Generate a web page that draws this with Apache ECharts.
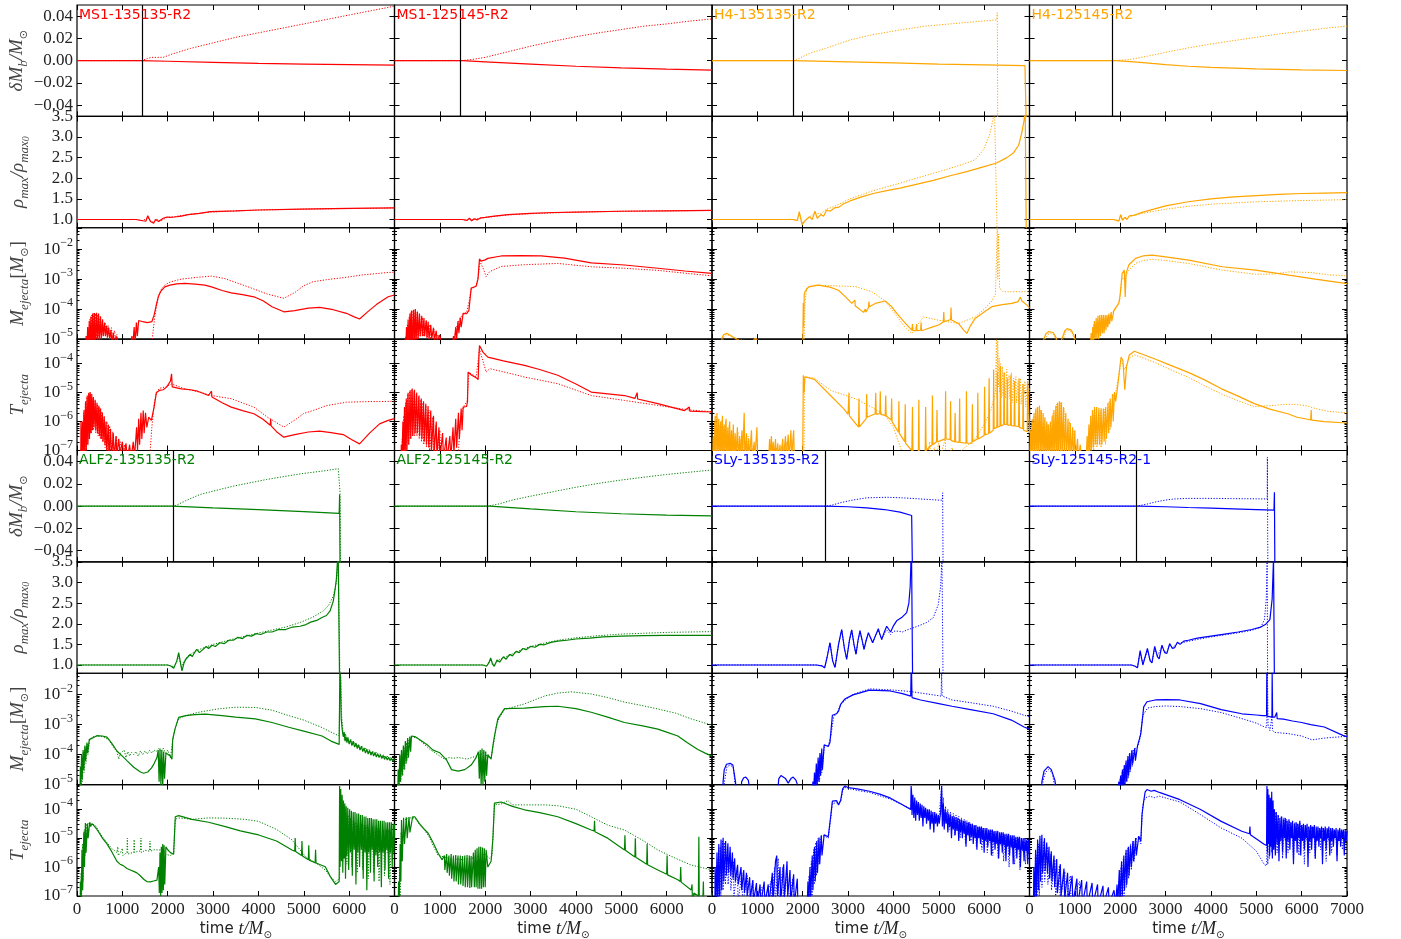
<!DOCTYPE html>
<html><head><meta charset="utf-8">
<script src="https://cdn.jsdelivr.net/npm/echarts@6/dist/echarts.min.js"></script>
<style>html,body{margin:0;padding:0;background:#fff}#c{width:1401px;height:939px}</style>
</head><body><div id="c"></div>
<script>
// ---- tick labels ----
const timeTicks = [0,1000,2000,3000,4000,5000,6000,7000];
const dMbTicks = [-0.04,-0.02,0,0.02,0.04];
const rhoTicks = [1.0,1.5,2.0,2.5,3.0,3.5];

// ---- data: [t, value]; Mej/Tej values are log10 ----
// MS1-135135-R2
const ms1a_dMb_s=[[0,0],[1400,0],[2000,-0.0005],[3000,-0.0015],[4000,-0.0025],[5000,-0.003],[6000,-0.0035],[7000,-0.004]];
const ms1a_dMb_d=[[0,0],[1430,0],[1550,0.002],[1650,0.003],[1900,0.003],[2100,0.006],[2500,0.011],[3000,0.016],[3500,0.021],[4000,0.025],[4500,0.029],[5000,0.033],[5500,0.037],[6000,0.041],[6500,0.045],[7000,0.049]];
const ms1a_rho_s=[[0,1],[1300,1.0],[1450,0.97],[1520,0.96],[1560,1.09],[1620,0.95],[1690,0.91],[1730,1.0],[1763,1.02],[1800,0.95],[1836,0.94],[1900,1.03],[1983,1.06],[2050,1.05],[2150,1.06],[2300,1.08],[2450,1.12],[2700,1.15],[2940,1.19],[3500,1.21],[4000,1.23],[4920,1.25],[6000,1.27],[7000,1.28]];
const ms1a_rho_d=[[0,1],[1300,1.0],[1450,0.97],[1560,1.05],[1620,0.96],[1690,0.93],[1763,1.01],[1836,0.96],[1983,1.05],[2150,1.07],[2450,1.12],[2940,1.18],[4000,1.23],[5000,1.25],[7000,1.28]];
const ms1a_Mej_s=[[0,-6],[190,-6],[200,-4.9],[215,-5.5],[235,-4.6],[250,-5.5],[270,-4.4],[285,-5.5],[305,-4.25],[320,-5.4],[345,-4.15],[360,-5.3],[385,-4.13],[400,-5.2],[430,-4.12],[445,-5.1],[475,-4.15],[490,-5.1],[520,-4.25],[535,-5.0],[565,-4.35],[580,-4.9],[610,-4.45],[625,-4.9],[655,-4.55],[670,-4.95],[700,-4.62],[720,-5.0],[750,-4.7],[770,-5.2],[800,-4.78],[830,-5.3],[860,-4.9],[900,-5.05],[950,-5.3],[1180,-5.3],[1210,-4.9],[1230,-5.2],[1260,-4.6],[1280,-5.1],[1310,-4.45],[1330,-4.9],[1360,-4.38],[1390,-4.36],[1450,-4.42],[1550,-4.45],[1650,-4.42],[1700,-4.2],[1750,-3.85],[1790,-3.6],[1850,-3.4],[1936,-3.26],[2050,-3.2],[2200,-3.16],[2380,-3.14],[2600,-3.17],[2820,-3.2],[2965,-3.26],[3200,-3.38],[3400,-3.46],[3650,-3.52],[3900,-3.59],[4100,-3.72],[4300,-3.92],[4560,-4.09],[4800,-4.05],[5100,-3.97],[5350,-3.94],[5650,-4.02],[5940,-4.14],[6100,-4.25],[6230,-4.33],[6400,-4.1],[6600,-3.85],[6860,-3.59],[7000,-3.53]];
const ms1a_Mej_d=[[0,-6],[220,-6],[240,-4.7],[255,-5.4],[280,-4.35],[295,-5.3],[320,-4.2],[335,-5.2],[365,-4.15],[380,-5.1],[410,-4.15],[425,-5.0],[460,-4.18],[475,-4.9],[510,-4.25],[525,-4.8],[560,-4.35],[575,-4.85],[620,-4.45],[640,-4.85],[690,-4.55],[710,-4.9],[760,-4.62],[780,-5.0],[830,-4.72],[850,-5.1],[880,-4.85],[920,-5.3],[1640,-5.3],[1680,-4.7],[1720,-4.2],[1760,-3.85],[1800,-3.55],[1870,-3.3],[1950,-3.18],[2070,-3.09],[2300,-3.0],[2660,-2.94],[2965,-2.9],[3250,-2.98],[3550,-3.14],[3900,-3.33],[4200,-3.5],[4560,-3.64],[4800,-3.45],[5000,-3.22],[5200,-3.09],[5500,-3.02],[5940,-2.94],[6300,-2.86],[6860,-2.78],[7000,-2.77]];
const ms1a_Tej_s=[[0,-8],[80,-8],[87,-6.0],[100,-7.3],[120,-6.0],[135,-7.3],[155,-5.6],[170,-7.2],[190,-5.3],[205,-7.0],[225,-5.1],[240,-6.8],[260,-5.0],[275,-6.6],[290,-4.98],[305,-6.4],[325,-5.05],[340,-6.3],[360,-5.15],[375,-6.2],[400,-5.25],[415,-6.3],[440,-5.35],[455,-6.4],[480,-5.45],[495,-6.5],[520,-5.55],[535,-6.6],[560,-5.7],[575,-6.7],[600,-5.85],[615,-6.8],[640,-6.0],[655,-7.0],[690,-6.1],[705,-7.2],[740,-6.25],[760,-7.3],[800,-6.4],[820,-7.3],[860,-6.5],[880,-7.2],[920,-6.6],[950,-7.1],[1000,-6.7],[1030,-7.2],[1080,-6.75],[1110,-7.3],[1160,-6.8],[1190,-7.3],[1240,-6.7],[1270,-7.2],[1314,-6.2],[1335,-7.0],[1360,-5.9],[1380,-6.8],[1410,-5.7],[1430,-6.6],[1460,-5.62],[1480,-6.4],[1510,-5.7],[1540,-6.2],[1580,-5.85],[1640,-5.96],[1700,-5.5],[1750,-5.0],[1820,-4.92],[1900,-4.9],[1980,-4.8],[2060,-4.6],[2085,-4.35],[2100,-4.8],[2300,-4.87],[2500,-4.9],[2660,-4.95],[2900,-5.1],[2965,-4.95],[2975,-5.15],[3200,-5.35],[3400,-5.5],[3650,-5.62],[3900,-5.73],[4100,-5.92],[4260,-6.13],[4270,-5.9],[4280,-6.15],[4400,-6.35],[4560,-6.54],[4800,-6.45],[5100,-6.36],[5350,-6.33],[5600,-6.38],[5870,-6.45],[6050,-6.62],[6230,-6.77],[6450,-6.4],[6670,-6.08],[6860,-5.96],[7000,-5.9]];
const ms1a_Tej_d=[[0,-8],[100,-8],[110,-6.3],[125,-7.3],[145,-5.7],[160,-7.2],[185,-5.35],[200,-7.0],[220,-5.15],[235,-6.8],[255,-5.05],[270,-6.6],[300,-5.05],[315,-6.4],[350,-5.2],[365,-6.3],[400,-5.3],[415,-6.4],[450,-5.4],[465,-6.5],[500,-5.5],[515,-6.6],[550,-5.65],[565,-6.7],[600,-5.8],[620,-6.9],[660,-6.0],[680,-7.1],[720,-6.15],[740,-7.2],[790,-6.35],[810,-7.3],[870,-6.5],[900,-7.3],[960,-6.7],[1000,-7.3],[1050,-6.8],[1100,-7.3],[1600,-7.3],[1650,-6.2],[1700,-5.4],[1750,-5.0],[1820,-4.85],[1950,-4.8],[2085,-4.7],[2380,-4.87],[2700,-4.98],[2965,-5.1],[3400,-5.21],[3900,-5.5],[4200,-5.85],[4560,-6.19],[4800,-5.95],[5000,-5.72],[5200,-5.62],[5500,-5.45],[5940,-5.33],[6400,-5.31],[7000,-5.3]];

// MS1-125145-R2
const ms1b_dMb_s=[[0,0],[1500,0],[2000,-0.001],[3000,-0.003],[4000,-0.005],[5000,-0.0065],[6000,-0.0076],[7000,-0.0085]];
const ms1b_dMb_d=[[0,0],[1455,0],[1700,0.001],[2000,0.003],[2500,0.008],[3000,0.013],[3500,0.0175],[4000,0.0215],[4500,0.025],[5000,0.028],[5500,0.031],[6000,0.033],[6500,0.0355],[7000,0.0375]];
const ms1b_rho_s=[[0,1],[1500,1.0],[1600,0.98],[1650,1.03],[1700,0.97],[1760,1.02],[1820,0.99],[1900,1.04],[2000,1.05],[2200,1.08],[2500,1.12],[3000,1.15],[3500,1.17],[4000,1.18],[5000,1.2],[6000,1.21],[7000,1.22]];
const ms1b_rho_d=[[0,1],[1500,1.0],[1600,0.98],[1660,1.02],[1710,0.98],[1780,1.01],[1900,1.03],[2000,1.05],[2500,1.11],[3000,1.14],[4000,1.18],[5000,1.2],[7000,1.22]];
const ms1b_Mej_s=[[0,-6],[220,-6],[230,-5.0],[245,-5.4],[265,-4.6],[280,-5.4],[300,-4.35],[315,-5.3],[340,-4.15],[355,-5.3],[375,-4.05],[390,-5.3],[420,-4.02],[435,-5.2],[460,-4.0],[475,-5.1],[505,-4.08],[520,-5.0],[550,-4.15],[565,-4.9],[600,-4.22],[615,-4.9],[650,-4.3],[665,-4.9],[700,-4.37],[715,-4.95],[742,-4.42],[760,-5.0],[800,-4.52],[820,-5.0],[860,-4.62],[880,-5.05],[920,-4.72],[940,-5.05],[999,-4.86],[1030,-5.2],[1280,-5.2],[1300,-4.9],[1320,-5.1],[1350,-4.6],[1370,-5.0],[1400,-4.4],[1420,-4.8],[1450,-4.28],[1470,-4.6],[1514,-4.14],[1588,-4.15],[1640,-4.05],[1690,-3.3],[1720,-3.28],[1800,-3.24],[1840,-3.0],[1873,-2.33],[1910,-2.4],[1947,-2.44],[2000,-2.36],[2057,-2.31],[2351,-2.23],[2800,-2.22],[3233,-2.23],[3748,-2.3],[4336,-2.46],[5071,-2.53],[5806,-2.64],[6400,-2.73],[7000,-2.81]];
const ms1b_Mej_d=[[0,-6],[240,-6],[250,-4.9],[265,-5.4],[285,-4.5],[300,-5.3],[325,-4.25],[340,-5.2],[365,-4.1],[380,-5.2],[410,-4.05],[425,-5.1],[455,-4.05],[470,-5.0],[500,-4.1],[515,-4.95],[555,-4.18],[570,-4.9],[620,-4.28],[640,-4.9],[700,-4.4],[720,-4.95],[780,-4.52],[800,-5.0],[870,-4.68],[890,-5.05],[960,-4.85],[1000,-5.2],[1300,-5.2],[1350,-4.7],[1400,-4.45],[1450,-4.3],[1514,-4.15],[1590,-4.12],[1650,-3.7],[1690,-3.35],[1800,-3.22],[1850,-2.9],[1880,-2.4],[1910,-2.45],[1970,-2.7],[2020,-2.92],[2100,-2.75],[2351,-2.58],[2866,-2.52],[3600,-2.48],[4336,-2.59],[5071,-2.64],[5806,-2.71],[6500,-2.82],[7000,-2.89]];
const ms1b_Tej_s=[[0,-8],[140,-8],[150,-6.8],[165,-7.3],[185,-6.0],[200,-7.3],[220,-5.5],[235,-7.2],[260,-5.2],[275,-7.0],[300,-5.0],[315,-6.8],[345,-4.92],[360,-6.6],[390,-4.86],[405,-6.5],[440,-4.9],[455,-6.4],[490,-5.0],[505,-6.4],[540,-5.1],[555,-6.5],[590,-5.2],[605,-6.6],[640,-5.3],[655,-6.7],[690,-5.38],[705,-6.8],[740,-5.46],[755,-6.9],[800,-5.62],[815,-7.0],[860,-5.8],[875,-7.1],[920,-6.0],[935,-7.2],[980,-6.2],[1000,-7.3],[1060,-6.4],[1080,-7.3],[1140,-6.55],[1160,-7.3],[1220,-6.5],[1240,-7.3],[1290,-6.2],[1310,-7.1],[1350,-5.9],[1370,-6.9],[1410,-5.7],[1430,-6.6],[1470,-5.55],[1490,-6.3],[1514,-5.5],[1588,-5.48],[1610,-5.3],[1623,-4.29],[1700,-4.4],[1800,-4.48],[1844,-4.55],[1860,-3.8],[1873,-3.37],[1950,-3.6],[2057,-3.77],[2400,-3.9],[2866,-4.06],[3200,-4.2],[3600,-4.4],[4000,-4.7],[4336,-4.98],[5071,-5.1],[5300,-5.2],[5350,-5.0],[5360,-5.22],[5806,-5.38],[6394,-5.62],[6500,-5.5],[6510,-5.64],[7000,-5.67]];
const ms1b_Tej_d=[[0,-8],[160,-8],[170,-6.6],[185,-7.3],[205,-5.8],[220,-7.2],[245,-5.35],[260,-7.0],[290,-5.05],[305,-6.8],[335,-4.95],[350,-6.6],[380,-4.9],[395,-6.5],[430,-4.95],[445,-6.5],[480,-5.05],[495,-6.5],[530,-5.15],[545,-6.6],[580,-5.25],[595,-6.7],[630,-5.35],[645,-6.8],[690,-5.45],[705,-6.9],[760,-5.6],[775,-7.0],[840,-5.85],[860,-7.1],[920,-6.1],[940,-7.2],[1000,-6.3],[1030,-7.3],[1400,-7.3],[1450,-6.0],[1514,-5.5],[1600,-5.3],[1640,-4.3],[1800,-4.45],[1873,-3.5],[1950,-3.9],[2020,-4.29],[2100,-4.17],[2400,-4.28],[2866,-4.46],[3600,-4.69],[4336,-5.1],[5071,-5.27],[5806,-5.44],[6500,-5.6],[7000,-5.66]];

// H4-135135-R2
const h4a_dMb_s=[[0,0],[1800,0],[3000,-0.001],[4000,-0.002],[5000,-0.003],[6000,-0.0037],[6900,-0.0045],[6930,-0.06]];
const h4a_dMb_d=[[0,0],[1786,0],[1867,0.001],[2160,0.0067],[2500,0.011],[3043,0.0186],[3500,0.023],[4145,0.0276],[4700,0.031],[5247,0.033],[5800,0.035],[6276,0.0366],[6290,0.043],[6300,-0.06]];
const h4a_rho_s=[[0,1],[1780,1.0],[1830,0.99],[1880,0.97],[1925,1.19],[1960,1.0],[1990,0.87],[2050,0.97],[2150,1.07],[2210,1.0],[2270,1.2],[2320,1.03],[2400,1.12],[2460,1.08],[2528,1.23],[2600,1.2],[2700,1.28],[2800,1.3],[2900,1.38],[3043,1.45],[3300,1.55],[3557,1.63],[3850,1.7],[4145,1.76],[4500,1.85],[4880,1.95],[5250,2.06],[5615,2.16],[6000,2.28],[6276,2.37],[6500,2.5],[6643,2.61],[6760,2.8],[6827,3.09],[6880,3.4],[6905,3.7],[6930,0.5]];
const h4a_rho_d=[[0,1],[1780,1.0],[1830,0.99],[1880,0.97],[1925,1.15],[1960,1.02],[1990,0.9],[2050,0.98],[2150,1.06],[2270,1.16],[2400,1.14],[2528,1.25],[2700,1.32],[3043,1.5],[3300,1.6],[3557,1.7],[4145,1.88],[4500,2.0],[4880,2.12],[5250,2.24],[5615,2.37],[5800,2.45],[5985,2.69],[6130,3.09],[6230,3.6],[6290,0.5]];
const h4a_Mej_s=[[0,-6],[200,-6],[220,-4.95],[260,-4.85],[300,-4.82],[330,-4.81],[380,-4.85],[450,-4.92],[520,-4.97],[580,-5.05],[900,-5.05],[960,-4.97],[1020,-5.05],[2000,-5.3],[2013,-3.8],[2020,-4.6],[2035,-3.5],[2050,-3.42],[2128,-3.26],[2348,-3.2],[2600,-3.27],[2789,-3.37],[2950,-3.6],[3083,-3.81],[3150,-3.7],[3160,-3.9],[3250,-4.0],[3340,-4.11],[3380,-4.0],[3390,-4.1],[3450,-3.95],[3460,-3.75],[3470,-3.92],[3598,-3.81],[3818,-3.73],[3950,-3.9],[4075,-4.14],[4250,-4.45],[4406,-4.7],[4420,-4.5],[4430,-4.72],[4500,-4.72],[4510,-4.5],[4520,-4.72],[4600,-4.7],[4610,-4.45],[4620,-4.72],[4700,-4.68],[4850,-4.6],[4994,-4.53],[5100,-4.43],[5110,-4.1],[5120,-4.42],[5215,-4.37],[5260,-4.35],[5270,-3.95],[5280,-4.36],[5435,-4.48],[5550,-4.7],[5619,-4.81],[5700,-4.55],[5803,-4.31],[6000,-4.1],[6170,-3.92],[6400,-3.85],[6611,-3.81],[6750,-3.75],[6800,-3.6],[6832,-3.73],[6930,-3.85],[7000,-3.95]];
const h4a_Mej_d=[[0,-6],[230,-6],[250,-4.95],[330,-4.85],[420,-4.9],[520,-5.0],[2030,-5.3],[2050,-3.8],[2090,-3.3],[2260,-3.2],[2789,-3.23],[3156,-3.25],[3524,-3.42],[3818,-3.73],[4112,-4.31],[4250,-4.6],[4406,-4.81],[4520,-4.55],[4663,-4.26],[4994,-4.37],[5435,-4.48],[5803,-4.26],[6000,-4.0],[6170,-3.73],[6250,-3.5],[6290,-1.2],[6300,-3.0],[6320,-1.5],[6340,-3.3],[6420,-3.42],[6905,-3.42],[7000,-3.42]];
const h4a_Tej_s=[[0,-8],[30,-6.5],[45,-7.3],[70,-5.8],[85,-7.3],[110,-5.7],[125,-7.2],[150,-5.9],[165,-7.3],[190,-6.0],[205,-7.3],[230,-5.8],[245,-7.3],[270,-6.1],[285,-7.2],[310,-5.9],[325,-7.3],[350,-6.2],[365,-7.3],[390,-6.0],[405,-7.3],[430,-6.3],[445,-7.2],[470,-6.1],[485,-7.3],[510,-6.4],[525,-7.3],[560,-6.2],[575,-7.3],[610,-6.5],[625,-7.3],[660,-6.3],[675,-7.2],[710,-5.7],[725,-7.3],[760,-6.4],[775,-7.3],[810,-6.6],[825,-7.3],[870,-6.3],[885,-7.3],[930,-6.7],[945,-7.3],[990,-6.2],[1005,-7.3],[1250,-7.3],[1270,-6.6],[1285,-7.3],[1310,-6.5],[1325,-7.3],[1350,-6.7],[1365,-7.3],[1400,-6.6],[1415,-7.3],[1450,-6.75],[1465,-7.3],[1500,-6.8],[1515,-7.3],[1560,-6.6],[1575,-7.3],[1620,-6.5],[1635,-7.3],[1680,-6.45],[1695,-7.3],[1740,-6.3],[1755,-7.3],[1800,-6.3],[1815,-7.3],[2000,-7.3],[2013,-4.4],[2030,-5.0],[2050,-4.45],[2260,-4.54],[2613,-5.1],[2907,-5.56],[3000,-5.75],[3020,-5.0],[3030,-5.8],[3230,-6.19],[3240,-5.2],[3250,-6.18],[3400,-5.9],[3410,-5.05],[3420,-5.85],[3598,-5.73],[3610,-5.0],[3620,-5.75],[3700,-5.72],[3710,-4.95],[3720,-5.75],[3818,-5.79],[3830,-5.1],[3840,-5.8],[3950,-5.95],[3960,-5.2],[3970,-6.0],[4112,-6.37],[4120,-5.3],[4130,-6.4],[4250,-6.7],[4260,-5.4],[4270,-6.75],[4406,-7.0],[4420,-5.5],[4430,-7.05],[4550,-7.1],[4560,-5.25],[4570,-7.1],[4700,-7.05],[4710,-5.5],[4720,-7.0],[4850,-6.8],[4860,-5.1],[4870,-6.8],[4950,-6.7],[4960,-5.6],[4970,-6.7],[5141,-6.6],[5150,-4.95],[5160,-6.6],[5250,-6.62],[5260,-5.3],[5270,-6.65],[5350,-6.7],[5360,-5.7],[5370,-6.7],[5450,-6.72],[5460,-5.2],[5470,-6.72],[5600,-6.75],[5610,-4.95],[5620,-6.75],[5730,-6.75],[5740,-5.4],[5750,-6.7],[5850,-6.6],[5860,-5.0],[5870,-6.6],[6000,-6.48],[6010,-4.8],[6020,-6.45],[6097,-6.42],[6110,-4.5],[6120,-6.4],[6200,-6.3],[6210,-4.2],[6220,-6.25],[6280,-6.2],[6290,-4.3],[6300,-6.2],[6350,-6.15],[6360,-4.1],[6370,-6.15],[6430,-6.1],[6440,-4.3],[6450,-6.1],[6500,-6.1],[6510,-4.5],[6520,-6.12],[6580,-6.12],[6590,-4.4],[6600,-6.14],[6660,-6.15],[6670,-4.6],[6680,-6.15],[6758,-6.18],[6770,-4.5],[6780,-6.2],[6850,-6.25],[6860,-4.7],[6870,-6.3],[6950,-6.35],[6960,-4.6],[7000,-6.4]];
const h4a_Tej_d=[[0,-8],[50,-7.3],[60,-6.0],[75,-7.3],[95,-5.75],[110,-7.3],[135,-5.9],[150,-7.3],[175,-6.1],[190,-7.3],[215,-5.95],[230,-7.3],[255,-6.2],[270,-7.3],[300,-6.0],[315,-7.3],[340,-6.3],[355,-7.3],[380,-6.1],[395,-7.3],[420,-6.4],[435,-7.3],[470,-6.3],[485,-7.3],[520,-6.5],[535,-7.3],[570,-6.35],[585,-7.3],[620,-6.6],[635,-7.3],[680,-6.5],[695,-7.3],[740,-6.7],[755,-7.3],[800,-6.5],[815,-7.3],[880,-6.8],[895,-7.3],[1000,-6.6],[1015,-7.3],[1300,-7.3],[1330,-6.8],[1345,-7.3],[1420,-6.9],[1435,-7.3],[1540,-6.85],[1555,-7.3],[1650,-6.7],[1665,-7.3],[1760,-6.6],[1775,-7.3],[2030,-7.3],[2040,-4.45],[2050,-4.5],[2260,-4.5],[2613,-4.92],[3156,-5.21],[3524,-5.5],[3818,-5.79],[4000,-6.2],[4112,-6.71],[4250,-7.3],[4700,-7.3],[4720,-6.8],[4740,-7.3],[4800,-6.7],[4820,-7.3],[4900,-6.9],[4920,-7.3],[5000,-6.75],[5020,-7.3],[5141,-6.6],[5160,-7.3],[5300,-6.9],[5320,-7.3],[5500,-7.0],[5800,-6.6],[6000,-6.1],[6150,-5.6],[6250,-5.0],[6270,-3.1],[6285,-5.2],[6300,-3.2],[6315,-4.8],[6330,-3.8],[6345,-5.0],[6360,-4.0],[6375,-5.2],[6400,-4.1],[6415,-5.1],[6450,-4.3],[6465,-5.2],[6500,-4.2],[6515,-5.3],[6550,-4.4],[6565,-5.2],[6600,-4.3],[6615,-5.35],[6650,-4.5],[6665,-5.2],[6700,-4.45],[6715,-5.35],[6750,-4.6],[6765,-5.3],[6800,-4.5],[6815,-5.4],[6850,-4.7],[6865,-5.4],[6900,-4.6],[6915,-5.5],[6950,-4.7],[6965,-5.6],[7000,-4.8]];

// H4-125145-R2
const h4b_dMb_s=[[0,0],[1900,0],[2300,-0.001],[2700,-0.0025],[3000,-0.0035],[3500,-0.005],[4000,-0.006],[5000,-0.0074],[6000,-0.0083],[7000,-0.0088]];
const h4b_dMb_d=[[0,0],[1830,0],[2200,0.001],[2600,0.004],[3000,0.0075],[3500,0.0115],[4000,0.015],[4500,0.018],[5000,0.021],[5500,0.024],[6000,0.0265],[6500,0.029],[7000,0.031]];
const h4b_rho_s=[[0,1],[1850,1.0],[1920,0.98],[1970,0.96],[2010,1.12],[2050,0.98],[2100,1.05],[2150,1.0],[2200,1.09],[2300,1.1],[2500,1.18],[2800,1.27],[3000,1.33],[3500,1.43],[4000,1.5],[4500,1.55],[5000,1.58],[5500,1.61],[6000,1.63],[6500,1.64],[7000,1.65]];
const h4b_rho_d=[[0,1],[1850,1.0],[1920,0.98],[1970,0.97],[2010,1.1],[2050,0.99],[2100,1.04],[2200,1.07],[2300,1.1],[2500,1.15],[3000,1.25],[3500,1.32],[4000,1.37],[4500,1.4],[5000,1.43],[6000,1.46],[7000,1.48]];
const h4b_Mej_s=[[0,-6],[300,-6],[316,-5.0],[360,-4.82],[420,-4.75],[463,-4.73],[520,-4.78],[570,-4.9],[610,-5.05],[700,-5.05],[720,-5.0],[780,-4.72],[830,-4.65],[868,-4.64],[920,-4.7],[980,-4.88],[1015,-5.05],[1340,-5.2],[1360,-4.8],[1375,-5.2],[1395,-4.6],[1410,-5.1],[1430,-4.4],[1445,-5.0],[1470,-4.3],[1485,-5.0],[1510,-4.22],[1525,-5.0],[1550,-4.2],[1565,-4.9],[1590,-4.2],[1605,-4.8],[1630,-4.2],[1645,-4.8],[1670,-4.2],[1685,-4.7],[1710,-4.2],[1725,-4.6],[1750,-4.15],[1765,-4.5],[1800,-4.1],[1815,-4.4],[1860,-4.05],[1900,-3.95],[1970,-3.81],[2000,-3.5],[2043,-2.81],[2060,-2.75],[2090,-2.7],[2110,-3.6],[2130,-2.8],[2190,-2.53],[2337,-2.31],[2500,-2.23],[2705,-2.2],[3000,-2.26],[3513,-2.37],[4248,-2.59],[4983,-2.7],[5718,-2.87],[6300,-3.0],[7000,-3.15]];
const h4b_Mej_d=[[0,-6],[330,-6],[345,-5.0],[400,-4.85],[463,-4.8],[530,-4.85],[600,-5.05],[740,-5.05],[800,-4.75],[868,-4.7],[940,-4.8],[1015,-5.1],[1360,-5.2],[1420,-4.5],[1440,-5.0],[1500,-4.35],[1520,-4.9],[1600,-4.3],[1620,-4.8],[1700,-4.25],[1720,-4.6],[1800,-4.15],[1900,-4.0],[1990,-3.7],[2043,-2.95],[2100,-3.0],[2190,-2.7],[2337,-2.48],[2500,-2.38],[2705,-2.34],[3000,-2.38],[3513,-2.48],[4248,-2.7],[4983,-2.84],[5400,-2.83],[5718,-2.76],[6200,-2.78],[6600,-2.86],[7000,-2.89]];
const h4b_Tej_s=[[0,-8],[20,-6.3],[35,-7.3],[60,-5.9],[75,-7.3],[100,-5.7],[115,-7.2],[140,-5.55],[155,-7.3],[180,-5.5],[195,-7.2],[220,-5.45],[235,-7.3],[260,-5.6],[275,-7.3],[300,-5.7],[315,-7.2],[340,-5.85],[355,-7.3],[380,-6.0],[395,-7.3],[420,-6.1],[435,-7.3],[460,-6.0],[475,-7.3],[500,-5.8],[515,-7.3],[540,-5.6],[555,-7.2],[580,-5.45],[595,-7.3],[620,-5.35],[635,-7.2],[660,-5.3],[675,-7.3],[705,-5.33],[720,-7.2],[750,-5.5],[765,-7.3],[800,-5.7],[815,-7.3],[850,-5.9],[865,-7.3],[900,-6.05],[915,-7.3],[950,-6.2],[965,-7.3],[1000,-6.3],[1015,-7.3],[1060,-6.6],[1075,-7.3],[1120,-6.8],[1146,-7.3],[1250,-7.3],[1270,-6.5],[1285,-7.3],[1310,-6.1],[1325,-7.2],[1350,-5.8],[1365,-7.0],[1390,-5.6],[1405,-6.9],[1433,-5.5],[1450,-6.8],[1480,-5.5],[1495,-6.8],[1530,-5.52],[1545,-6.8],[1580,-5.54],[1595,-6.8],[1630,-5.55],[1645,-6.7],[1680,-5.5],[1695,-6.6],[1730,-5.35],[1745,-6.4],[1780,-5.2],[1795,-6.2],[1830,-5.05],[1845,-6.0],[1874,-4.98],[1900,-5.3],[1950,-4.7],[2000,-4.0],[2020,-3.77],[2060,-3.9],[2100,-4.9],[2140,-4.1],[2200,-3.7],[2313,-3.57],[2400,-3.62],[2752,-3.83],[3100,-4.05],[3487,-4.29],[3850,-4.55],[4222,-4.86],[4600,-5.12],[4957,-5.38],[5300,-5.57],[5692,-5.73],[5900,-5.85],[6133,-5.92],[6200,-5.94],[6210,-5.6],[6220,-5.95],[6500,-6.0],[6904,-6.04],[7000,-6.05]];
const h4b_Tej_d=[[0,-8],[40,-7.3],[50,-6.0],[65,-7.3],[90,-5.8],[105,-7.3],[130,-5.6],[145,-7.3],[170,-5.5],[185,-7.3],[240,-5.6],[255,-7.3],[320,-5.9],[335,-7.3],[400,-6.1],[415,-7.3],[520,-5.7],[535,-7.3],[600,-5.4],[615,-7.3],[680,-5.35],[695,-7.3],[760,-5.55],[775,-7.3],[880,-6.0],[895,-7.3],[980,-6.3],[995,-7.3],[1300,-7.3],[1330,-6.2],[1345,-7.3],[1400,-5.75],[1415,-7.0],[1470,-5.6],[1485,-6.9],[1560,-5.6],[1575,-6.9],[1660,-5.58],[1675,-6.8],[1760,-5.3],[1775,-6.3],[1850,-5.1],[1900,-5.0],[1980,-4.3],[2020,-3.9],[2100,-4.2],[2200,-3.8],[2313,-3.7],[2400,-3.74],[2752,-3.95],[3100,-4.2],[3487,-4.46],[3850,-4.75],[4222,-5.04],[4600,-5.28],[4957,-5.48],[5300,-5.45],[5692,-5.4],[5865,-5.41],[6100,-5.45],[6306,-5.55],[6600,-5.65],[7000,-5.7]];

// ALF2-135135-R2
const alf2a_dMb_s=[[0,0],[2100,0],[3000,-0.0015],[4000,-0.003],[5000,-0.0048],[5780,-0.0065],[5790,0.0105],[5800,-0.06]];
const alf2a_dMb_d=[[0,0],[2132,0],[2250,0.002],[2400,0.005],[2712,0.0105],[3000,0.0135],[3447,0.018],[4182,0.024],[4917,0.029],[5500,0.032],[5760,0.0337],[5790,0.0337],[5800,0.012],[5810,-0.06]];
const alf2a_rho_s=[[0,1],[2000,1.0],[2080,0.97],[2132,0.92],[2200,1.1],[2242,1.3],[2290,1.0],[2315,0.86],[2360,1.05],[2400,1.14],[2450,1.2],[2500,1.26],[2540,1.2],[2580,1.28],[2640,1.38],[2700,1.3],[2760,1.36],[2850,1.45],[2900,1.4],[2980,1.48],[3050,1.45],[3150,1.54],[3250,1.52],[3350,1.6],[3447,1.6],[3550,1.67],[3650,1.64],[3750,1.72],[3850,1.7],[3950,1.76],[4050,1.74],[4182,1.8],[4300,1.8],[4450,1.86],[4600,1.86],[4750,1.92],[4917,1.94],[5050,1.98],[5150,2.04],[5285,2.08],[5400,2.15],[5500,2.2],[5579,2.31],[5650,2.55],[5690,2.83],[5720,3.1],[5740,3.48],[5760,3.6],[5790,0.5]];
const alf2a_rho_d=[[0,1],[2000,1.0],[2080,0.98],[2132,0.94],[2200,1.08],[2242,1.22],[2300,0.95],[2360,1.1],[2450,1.22],[2600,1.33],[2800,1.42],[3000,1.5],[3447,1.63],[3900,1.75],[4182,1.82],[4600,1.92],[4917,2.03],[5200,2.16],[5430,2.31],[5550,2.45],[5650,2.67],[5720,3.0],[5760,3.6],[5790,3.6],[5800,0.5]];
const alf2a_Mej_s=[[0,-6],[60,-6],[75,-4.4],[85,-5.2],[100,-4.0],[115,-4.8],[135,-3.85],[150,-4.5],[175,-3.7],[190,-4.2],[220,-3.6],[235,-3.95],[270,-3.5],[300,-3.45],[440,-3.37],[560,-3.38],[660,-3.42],[780,-3.65],[880,-3.88],[1000,-4.05],[1100,-4.2],[1250,-4.42],[1400,-4.58],[1468,-4.62],[1560,-4.58],[1640,-4.45],[1700,-4.3],[1763,-4.1],[1790,-3.85],[1810,-4.9],[1830,-3.8],[1850,-5.0],[1870,-3.85],[1890,-5.1],[1910,-3.9],[1930,-4.8],[1960,-3.95],[2000,-4.0],[2057,-4.05],[2094,-4.15],[2110,-3.5],[2160,-3.15],[2241,-2.76],[2400,-2.7],[2600,-2.67],[2830,-2.65],[3197,-2.7],[3500,-2.75],[3932,-2.81],[4300,-2.93],[4667,-3.09],[5000,-3.22],[5402,-3.38],[5600,-3.55],[5780,-3.66],[5795,-1.3],[5810,-1.4],[5825,-2.8],[5850,-3.2],[5870,-3.4],[5890,-3.25],[5910,-3.55],[5930,-3.4],[5950,-3.6],[5975,-3.45],[6000,-3.65],[6030,-3.5],[6060,-3.7],[6090,-3.55],[6120,-3.75],[6150,-3.62],[6180,-3.8],[6210,-3.68],[6240,-3.85],[6270,-3.72],[6300,-3.9],[6330,-3.78],[6360,-3.95],[6390,-3.82],[6420,-3.98],[6450,-3.86],[6480,-4.02],[6510,-3.9],[6540,-4.05],[6570,-3.93],[6600,-4.08],[6630,-3.97],[6660,-4.1],[6690,-4.0],[6720,-4.13],[6750,-4.03],[6780,-4.16],[6810,-4.06],[6840,-4.18],[6870,-4.09],[6900,-4.2],[6930,-4.12],[6960,-4.22],[7000,-4.15]];
const alf2a_Mej_d=[[0,-6],[70,-6],[80,-4.6],[90,-5.3],[105,-4.1],[120,-4.9],[140,-3.9],[155,-4.6],[180,-3.75],[195,-4.3],[225,-3.65],[240,-4.0],[280,-3.5],[330,-3.42],[440,-3.38],[560,-3.4],[700,-3.5],[800,-3.75],[880,-3.9],[920,-4.15],[960,-3.95],[1000,-4.0],[1040,-3.85],[1080,-4.1],[1120,-3.9],[1160,-4.05],[1200,-3.92],[1250,-4.0],[1300,-3.9],[1350,-4.05],[1400,-3.88],[1450,-4.0],[1500,-3.88],[1550,-3.98],[1600,-3.86],[1650,-3.95],[1700,-3.85],[1750,-3.9],[1800,-3.8],[1850,-3.9],[1900,-3.78],[1950,-3.95],[2000,-3.85],[2060,-4.1],[2094,-4.15],[2120,-3.4],[2170,-3.1],[2241,-2.8],[2400,-2.7],[2650,-2.6],[2830,-2.55],[3100,-2.48],[3500,-2.42],[3932,-2.43],[4300,-2.52],[4667,-2.7],[5000,-2.85],[5402,-3.1],[5600,-3.25],[5780,-3.38],[5800,-1.25],[5815,-1.5],[5830,-2.6],[5850,-3.0],[5870,-3.35],[5895,-3.5],[5920,-3.3],[5945,-3.55],[5970,-3.4],[6000,-3.6],[6040,-3.5],[6080,-3.68],[6120,-3.58],[6160,-3.75],[6200,-3.65],[6240,-3.82],[6280,-3.72],[6320,-3.88],[6360,-3.78],[6400,-3.93],[6440,-3.83],[6480,-3.97],[6520,-3.88],[6560,-4.0],[6600,-3.92],[6640,-4.05],[6680,-3.97],[6720,-4.08],[6760,-4.0],[6800,-4.12],[6840,-4.04],[6880,-4.15],[6920,-4.08],[6960,-4.18],[7000,-4.1]];
const alf2a_Tej_s=[[0,-8],[70,-8],[75,-6.5],[90,-7.3],[110,-5.4],[125,-6.8],[150,-4.8],[165,-6.0],[185,-4.48],[200,-5.5],[230,-4.5],[245,-5.0],[280,-4.45],[300,-4.6],[330,-4.5],[360,-4.55],[400,-4.62],[440,-4.7],[500,-4.85],[560,-5.0],[660,-5.2],[760,-5.45],[880,-5.8],[950,-5.9],[1020,-5.95],[1100,-6.05],[1175,-6.1],[1250,-6.15],[1320,-6.2],[1395,-6.3],[1470,-6.42],[1540,-6.5],[1616,-6.51],[1690,-6.48],[1763,-6.45],[1800,-6.0],[1815,-6.9],[1830,-5.5],[1845,-7.0],[1860,-5.3],[1875,-6.9],[1890,-5.2],[1905,-6.8],[1920,-5.25],[1935,-6.6],[1960,-5.3],[2000,-5.4],[2060,-5.5],[2130,-5.56],[2167,-4.26],[2241,-4.22],[2535,-4.35],[2900,-4.45],[3270,-4.6],[3600,-4.75],[4005,-4.89],[4400,-5.1],[4740,-5.41],[4800,-5.45],[4810,-5.0],[4820,-5.46],[4950,-5.6],[4960,-5.1],[4970,-5.62],[5100,-5.75],[5110,-5.25],[5120,-5.76],[5250,-5.85],[5260,-5.4],[5270,-5.86],[5475,-5.99],[5585,-6.33],[5700,-6.6],[5780,-6.5],[5790,-3.2],[5800,-6.0],[5815,-3.3],[5830,-5.8],[5845,-3.5],[5860,-6.2],[5875,-3.7],[5890,-5.7],[5905,-3.8],[5920,-6.4],[5935,-3.9],[5950,-5.6],[5970,-3.95],[5990,-6.1],[6010,-4.0],[6030,-5.5],[6050,-4.05],[6070,-6.3],[6090,-4.1],[6110,-5.4],[6130,-4.1],[6150,-6.6],[6170,-4.15],[6190,-5.5],[6210,-4.15],[6230,-6.0],[6250,-4.2],[6270,-5.4],[6290,-4.2],[6310,-6.4],[6330,-4.25],[6350,-5.5],[6370,-4.25],[6390,-6.8],[6410,-4.3],[6430,-5.5],[6450,-4.3],[6470,-6.2],[6490,-4.3],[6510,-5.4],[6530,-4.35],[6550,-6.5],[6570,-4.35],[6590,-5.6],[6610,-4.35],[6630,-6.0],[6650,-4.4],[6670,-5.5],[6690,-4.4],[6710,-6.7],[6730,-4.4],[6750,-5.5],[6770,-4.4],[6790,-6.1],[6810,-4.45],[6830,-5.4],[6850,-4.45],[6870,-6.4],[6890,-4.45],[6910,-5.5],[6930,-4.45],[6950,-6.0],[6970,-4.5],[6985,-5.5],[7000,-4.5]];
const alf2a_Tej_d=[[0,-8],[80,-8],[90,-6.2],[100,-7.3],[120,-5.2],[135,-6.5],[160,-4.7],[180,-5.6],[210,-4.5],[240,-4.55],[300,-4.5],[400,-4.55],[500,-4.8],[560,-4.95],[660,-5.15],[760,-5.35],[880,-5.5],[900,-5.3],[910,-5.6],[960,-5.5],[1000,-5.35],[1010,-5.6],[1100,-5.5],[1110,-5.0],[1120,-5.55],[1175,-5.52],[1250,-5.5],[1260,-5.05],[1270,-5.5],[1350,-5.45],[1400,-5.45],[1410,-5.0],[1420,-5.5],[1500,-5.42],[1600,-5.45],[1610,-5.1],[1620,-5.45],[1700,-5.4],[1800,-5.41],[1910,-5.41],[1950,-5.55],[2050,-5.6],[2130,-5.55],[2167,-4.35],[2241,-4.3],[2535,-4.35],[2900,-4.3],[3270,-4.31],[3700,-4.35],[4005,-4.42],[4400,-4.7],[4740,-5.06],[5040,-5.64],[5300,-5.9],[5475,-6.1],[5585,-6.33],[5700,-6.5],[5790,-6.4],[5800,-3.3],[5820,-5.5],[5840,-3.6],[5860,-5.8],[5880,-3.9],[5900,-5.4],[5925,-4.1],[5950,-5.9],[5975,-4.2],[6000,-5.3],[6030,-4.3],[6060,-6.0],[6090,-4.4],[6120,-5.3],[6150,-4.45],[6180,-6.2],[6210,-4.5],[6240,-5.3],[6270,-4.5],[6300,-6.1],[6330,-4.55],[6360,-5.4],[6390,-4.55],[6420,-6.4],[6450,-4.6],[6480,-5.4],[6510,-4.6],[6540,-6.2],[6570,-4.6],[6600,-5.5],[6630,-4.65],[6660,-6.5],[6690,-4.65],[6720,-5.5],[6750,-4.7],[6780,-6.3],[6810,-4.7],[6840,-5.5],[6870,-4.7],[6900,-6.6],[6930,-4.75],[6960,-5.6],[7000,-4.75]];

// ALF2-125145-R2
const alf2b_dMb_s=[[0,0],[2100,0],[2500,-0.001],[3000,-0.0025],[4000,-0.005],[5000,-0.0068],[6000,-0.008],[7000,-0.0087]];
const alf2b_dMb_d=[[0,0],[2050,0],[2300,0.002],[2600,0.0055],[3000,0.009],[3500,0.013],[4000,0.017],[4500,0.0205],[5000,0.0235],[5500,0.026],[6000,0.0285],[6500,0.0305],[7000,0.0325]];
const alf2b_rho_s=[[0,1],[1950,1.0],[2030,0.97],[2080,1.05],[2120,1.17],[2160,1.02],[2200,0.97],[2260,1.12],[2320,1.07],[2400,1.2],[2460,1.14],[2540,1.26],[2600,1.22],[2680,1.33],[2750,1.3],[2830,1.4],[2900,1.37],[3000,1.45],[3100,1.43],[3200,1.5],[3300,1.49],[3450,1.55],[3600,1.58],[3800,1.6],[4000,1.63],[4300,1.65],[4600,1.68],[5000,1.7],[5500,1.71],[6000,1.72],[7000,1.72]];
const alf2b_rho_d=[[0,1],[1950,1.0],[2030,0.98],[2120,1.12],[2200,1.0],[2300,1.12],[2450,1.2],[2600,1.27],[2800,1.37],[3000,1.45],[3300,1.53],[3600,1.6],[4000,1.66],[4500,1.71],[5000,1.75],[5500,1.77],[6000,1.79],[7000,1.81]];
const alf2b_Mej_s=[[0,-6],[70,-6],[80,-4.5],[95,-5.3],[115,-4.0],[130,-4.9],[154,-3.85],[170,-4.7],[195,-3.7],[210,-4.5],[240,-3.55],[255,-4.3],[290,-3.45],[305,-4.1],[340,-3.4],[355,-3.9],[375,-3.38],[450,-3.4],[600,-3.55],[742,-3.7],[850,-3.85],[1000,-3.94],[1100,-4.1],[1146,-4.17],[1257,-4.5],[1404,-4.55],[1550,-4.5],[1690,-4.35],[1800,-4.1],[1850,-3.9],[1870,-4.8],[1890,-3.85],[1910,-5.0],[1930,-3.8],[1950,-5.0],[1970,-3.85],[1990,-4.9],[2010,-3.9],[2030,-4.7],[2057,-4.0],[2130,-4.15],[2170,-3.7],[2204,-3.38],[2278,-2.81],[2425,-2.47],[2866,-2.45],[3300,-2.4],[3600,-2.39],[4000,-2.47],[4336,-2.59],[4700,-2.75],[5071,-2.93],[5500,-3.05],[5806,-3.15],[6000,-3.25],[6247,-3.38],[6450,-3.6],[6688,-3.83],[6850,-3.95],[7000,-4.05]];
const alf2b_Mej_d=[[0,-6],[80,-6],[90,-4.6],[105,-5.3],[125,-4.05],[140,-4.9],[165,-3.9],[180,-4.7],[210,-3.75],[225,-4.5],[260,-3.6],[275,-4.2],[320,-3.45],[375,-3.4],[500,-3.45],[650,-3.65],[800,-3.85],[900,-3.95],[1000,-4.05],[1100,-4.15],[1200,-4.1],[1300,-4.12],[1400,-4.1],[1500,-4.12],[1600,-4.15],[1700,-4.1],[1800,-4.05],[1900,-4.0],[1984,-3.9],[2050,-4.1],[2130,-4.1],[2190,-3.6],[2240,-3.1],[2300,-2.8],[2425,-2.5],[2866,-2.31],[3306,-2.05],[3600,-1.95],[3895,-1.91],[4336,-1.98],[4700,-2.1],[5071,-2.25],[5500,-2.38],[5806,-2.48],[6200,-2.62],[6541,-2.81],[7000,-3.02]];
const alf2b_Tej_s=[[0,-8],[80,-8],[90,-6.5],[105,-7.3],[125,-5.2],[140,-6.5],[154,-4.37],[170,-5.8],[200,-4.3],[220,-5.2],[260,-4.28],[280,-5.0],[320,-4.27],[340,-4.8],[400,-4.26],[448,-4.26],[550,-4.5],[650,-4.68],[742,-4.83],[850,-5.15],[962,-5.52],[1050,-5.75],[1100,-5.6],[1110,-6.1],[1150,-5.55],[1160,-6.2],[1200,-5.6],[1210,-6.3],[1250,-5.55],[1260,-6.4],[1300,-5.6],[1310,-6.5],[1350,-5.58],[1360,-6.5],[1400,-5.6],[1410,-6.6],[1450,-5.6],[1460,-6.6],[1500,-5.62],[1510,-6.65],[1550,-5.6],[1560,-6.7],[1600,-5.58],[1610,-6.7],[1650,-5.6],[1660,-6.72],[1690,-5.62],[1700,-6.7],[1740,-5.5],[1760,-6.7],[1780,-5.4],[1800,-6.7],[1820,-5.35],[1840,-6.75],[1860,-5.3],[1880,-6.75],[1900,-5.3],[1920,-6.75],[1940,-5.32],[1960,-6.7],[1980,-5.35],[2000,-6.7],[2020,-5.4],[2057,-6.0],[2130,-5.8],[2170,-5.0],[2204,-3.79],[2351,-3.75],[2600,-3.9],[2866,-4.02],[3200,-4.12],[3600,-4.26],[4000,-4.5],[4336,-4.72],[4400,-4.75],[4410,-4.4],[4420,-4.78],[4700,-5.0],[5071,-5.41],[5080,-4.9],[5090,-5.42],[5300,-5.65],[5310,-5.0],[5320,-5.66],[5560,-5.9],[5570,-5.2],[5580,-5.92],[5806,-6.1],[6000,-6.25],[6010,-5.6],[6020,-6.27],[6247,-6.44],[6300,-6.5],[6310,-6.0],[6320,-6.52],[6541,-6.79],[6560,-6.6],[6570,-7.3],[6600,-6.9],[6700,-7.0],[6710,-4.95],[6720,-7.3],[6800,-7.0],[6810,-6.5],[6820,-7.3],[6982,-7.05],[7000,-6.9]];
const alf2b_Tej_d=[[0,-8],[100,-8],[110,-6.0],[125,-7.3],[145,-4.8],[165,-5.8],[200,-4.4],[300,-4.3],[448,-4.3],[560,-4.55],[660,-4.72],[760,-4.95],[880,-5.35],[962,-5.6],[1100,-5.65],[1200,-5.7],[1300,-5.75],[1400,-5.72],[1500,-5.75],[1600,-5.72],[1700,-5.7],[1800,-5.65],[1900,-5.6],[2000,-5.55],[2100,-5.7],[2150,-5.6],[2204,-3.85],[2351,-3.82],[2500,-3.7],[2600,-3.85],[2866,-3.85],[3306,-3.85],[3600,-3.88],[4000,-4.0],[4336,-4.26],[4700,-4.55],[5071,-4.72],[5500,-5.1],[5806,-5.41],[6200,-5.7],[6541,-5.93],[7000,-6.1]];

// SLy-135135-R2
const slya_dMb_s=[[0,0],[2500,0],[3000,-0.0005],[3411,-0.0015],[3800,-0.003],[4145,-0.0054],[4402,-0.0084],[4420,-0.06]];
const slya_dMb_d=[[0,0],[2506,0],[2650,0.001],[2820,0.003],[3100,0.0055],[3411,0.0075],[3851,0.008],[4200,0.0075],[4512,0.0067],[5026,0.0054],[5080,0.0055],[5085,0.012],[5095,-0.06]];
const slya_rho_s=[[0,1],[2300,1.0],[2420,0.98],[2483,0.93],[2540,1.2],[2601,1.54],[2660,1.1],[2712,0.94],[2790,1.5],[2859,1.86],[2920,1.4],[2969,1.14],[3030,1.6],[3080,1.85],[3130,1.5],[3175,1.26],[3220,1.6],[3263,1.83],[3310,1.6],[3351,1.38],[3400,1.6],[3447,1.78],[3500,1.65],[3542,1.54],[3600,1.7],[3667,1.88],[3700,1.75],[3741,1.62],[3800,1.8],[3851,1.94],[3900,1.86],[3939,1.8],[4000,1.95],[4071,2.07],[4181,2.15],[4292,2.27],[4340,2.5],[4370,2.91],[4385,3.48],[4400,3.6],[4424,0.5]];
const slya_rho_d=[[0,1],[2300,1.0],[2420,0.98],[2483,0.93],[2540,1.2],[2601,1.54],[2660,1.1],[2712,0.94],[2790,1.5],[2859,1.86],[2920,1.4],[2969,1.14],[3030,1.6],[3080,1.85],[3130,1.5],[3175,1.26],[3220,1.6],[3263,1.83],[3310,1.6],[3351,1.38],[3400,1.6],[3447,1.78],[3500,1.65],[3542,1.54],[3600,1.7],[3667,1.84],[3741,1.62],[3800,1.76],[3851,1.85],[3939,1.74],[4000,1.82],[4112,1.82],[4200,1.8],[4300,1.85],[4512,1.93],[4733,2.03],[4880,2.15],[4990,2.47],[5041,2.91],[5070,3.6],[5095,0.5]];
const slya_Mej_s=[[0,-6],[230,-6],[245,-4.9],[270,-4.5],[320,-4.32],[400,-4.29],[460,-4.35],[518,-4.9],[530,-5.2],[640,-5.2],[654,-4.9],[700,-4.77],[745,-4.75],[800,-4.85],[836,-5.2],[1450,-5.2],[1473,-4.8],[1520,-4.7],[1563,-4.69],[1620,-4.8],[1680,-4.95],[1740,-4.8],[1790,-4.75],[1850,-4.85],[1927,-5.2],[2210,-5.2],[2225,-4.9],[2240,-5.2],[2260,-4.6],[2275,-5.2],[2300,-4.3],[2315,-5.1],[2340,-4.1],[2355,-4.9],[2380,-3.95],[2395,-4.7],[2420,-3.8],[2435,-4.5],[2473,-3.67],[2563,-3.73],[2600,-3.6],[2654,-2.69],[2745,-2.64],[2790,-2.55],[2836,-2.33],[2927,-2.15],[3109,-2.01],[3472,-1.85],[3927,-1.88],[4200,-1.97],[4381,-2.05],[4390,-1.2],[4400,-1.3],[4410,-2.1],[4600,-2.18],[5000,-2.3],[5290,-2.39],[5700,-2.5],[6200,-2.64],[6600,-2.85],[6881,-3.08],[7000,-3.15]];
const slya_Mej_d=[[0,-6],[260,-6],[275,-4.9],[330,-4.4],[400,-4.35],[470,-4.42],[520,-5.2],[2240,-5.2],[2260,-4.8],[2275,-5.2],[2300,-4.5],[2320,-5.1],[2350,-4.2],[2370,-4.9],[2400,-4.0],[2420,-4.6],[2480,-3.7],[2563,-3.7],[2620,-3.4],[2680,-2.75],[2760,-2.6],[2840,-2.32],[2927,-2.2],[3100,-2.0],[3472,-1.81],[4000,-1.85],[4381,-1.9],[4700,-1.97],[5050,-2.05],[5063,-1.3],[5075,-2.05],[5290,-2.18],[5700,-2.27],[6200,-2.39],[6600,-2.55],[6881,-2.69],[7000,-2.74]];
const slya_Tej_s=[[0,-8],[60,-8],[70,-6.0],[85,-7.3],[110,-5.5],[125,-7.2],[150,-5.2],[165,-7.0],[200,-5.05],[215,-6.8],[245,-4.99],[260,-6.5],[300,-5.1],[315,-6.3],[350,-5.18],[365,-6.2],[400,-5.3],[415,-6.3],[450,-5.5],[465,-6.4],[500,-5.7],[515,-6.5],[564,-5.92],[580,-6.6],[640,-6.0],[655,-6.8],[700,-6.1],[715,-6.9],[760,-6.2],[775,-7.0],[830,-6.35],[845,-7.1],[900,-6.45],[915,-7.2],[980,-6.55],[995,-7.3],[1060,-6.6],[1075,-7.3],[1150,-6.5],[1165,-7.3],[1240,-6.6],[1255,-7.3],[1330,-6.2],[1345,-7.3],[1400,-5.8],[1427,-5.6],[1445,-7.0],[1500,-6.0],[1515,-7.2],[1580,-5.9],[1595,-7.1],[1654,-5.8],[1670,-7.0],[1720,-6.1],[1735,-7.2],[1800,-6.25],[1815,-7.3],[1880,-6.4],[1895,-7.3],[2100,-7.3],[2115,-6.5],[2130,-7.3],[2160,-6.0],[2175,-7.1],[2210,-5.6],[2225,-6.8],[2260,-5.3],[2275,-6.5],[2310,-5.1],[2325,-6.2],[2360,-4.98],[2375,-5.9],[2410,-4.9],[2425,-5.6],[2473,-4.88],[2563,-4.95],[2620,-4.2],[2654,-3.72],[2745,-3.7],[2790,-3.85],[2836,-3.7],[2880,-3.3],[2927,-3.2],[3000,-3.25],[3200,-3.3],[3472,-3.38],[3700,-3.48],[3927,-3.61],[4150,-3.8],[4381,-4.01],[4390,-3.2],[4400,-3.4],[4410,-4.2],[4430,-3.5],[4450,-4.3],[4470,-3.6],[4490,-4.4],[4510,-3.7],[4530,-4.2],[4550,-3.75],[4570,-4.4],[4590,-3.8],[4610,-4.3],[4630,-3.85],[4650,-4.6],[4670,-3.9],[4690,-4.3],[4710,-3.95],[4730,-4.5],[4750,-4.0],[4770,-4.4],[4790,-4.0],[4810,-4.7],[4830,-4.05],[4850,-4.5],[4870,-4.1],[4890,-4.8],[4910,-4.1],[4930,-4.5],[4950,-4.15],[4970,-4.6],[4990,-4.2],[5010,-4.5],[5040,-4.1],[5063,-3.2],[5080,-4.6],[5100,-3.8],[5120,-4.7],[5140,-4.0],[5160,-4.5],[5180,-4.1],[5200,-4.8],[5220,-4.15],[5240,-4.6],[5260,-4.2],[5280,-5.0],[5300,-4.25],[5320,-4.7],[5340,-4.25],[5360,-4.9],[5380,-4.3],[5400,-4.75],[5420,-4.3],[5440,-5.1],[5460,-4.35],[5480,-4.8],[5500,-4.35],[5520,-5.0],[5540,-4.4],[5560,-4.85],[5580,-4.4],[5600,-5.3],[5620,-4.45],[5640,-4.9],[5660,-4.45],[5680,-5.1],[5700,-4.5],[5720,-4.95],[5740,-4.5],[5760,-5.2],[5780,-4.55],[5800,-5.0],[5820,-4.55],[5840,-5.4],[5860,-4.6],[5880,-5.0],[5900,-4.6],[5920,-5.2],[5940,-4.6],[5960,-5.05],[5980,-4.65],[6000,-5.5],[6020,-4.65],[6040,-5.1],[6060,-4.65],[6080,-5.3],[6100,-4.7],[6120,-5.1],[6140,-4.7],[6160,-5.6],[6180,-4.7],[6200,-5.15],[6220,-4.75],[6240,-5.4],[6260,-4.75],[6280,-5.2],[6300,-4.75],[6320,-5.7],[6340,-4.8],[6360,-5.2],[6380,-4.8],[6400,-5.5],[6420,-4.8],[6440,-5.25],[6460,-4.85],[6480,-5.8],[6500,-4.85],[6520,-5.3],[6540,-4.85],[6560,-5.6],[6580,-4.9],[6600,-5.3],[6620,-4.9],[6640,-5.9],[6660,-4.9],[6680,-5.35],[6700,-4.95],[6720,-5.7],[6740,-4.95],[6760,-5.4],[6780,-4.95],[6800,-6.0],[6820,-5.0],[6840,-5.4],[6860,-5.0],[6880,-5.8],[6900,-5.0],[6920,-5.45],[6940,-5.05],[6960,-5.9],[6980,-5.05],[7000,-5.5]];
const slya_Tej_d=[[0,-8],[80,-8],[95,-6.3],[110,-7.3],[135,-5.7],[150,-7.2],[180,-5.3],[195,-7.0],[230,-5.1],[245,-6.8],[280,-5.15],[295,-6.6],[340,-5.3],[355,-6.6],[400,-5.5],[415,-6.8],[470,-5.8],[485,-7.0],[560,-6.0],[575,-7.2],[660,-6.2],[675,-7.3],[780,-6.3],[795,-7.3],[900,-6.5],[915,-7.3],[1100,-6.7],[1115,-7.3],[1300,-6.5],[1315,-7.3],[1380,-6.0],[1395,-7.3],[1460,-5.7],[1475,-7.3],[1560,-6.0],[1575,-7.3],[1660,-6.2],[1675,-7.3],[1780,-6.4],[1795,-7.3],[2120,-7.3],[2140,-6.3],[2155,-7.3],[2190,-5.8],[2205,-7.0],[2240,-5.4],[2255,-6.6],[2290,-5.15],[2305,-6.3],[2340,-5.0],[2355,-5.9],[2400,-4.95],[2473,-4.92],[2563,-5.0],[2620,-4.3],[2654,-3.8],[2745,-3.78],[2836,-3.75],[2880,-3.35],[2927,-3.25],[3200,-3.35],[3472,-3.42],[3927,-3.65],[4381,-3.98],[4700,-4.2],[5000,-4.4],[5063,-3.2],[5080,-4.5],[5100,-3.6],[5120,-4.6],[5150,-3.9],[5170,-4.5],[5200,-4.0],[5230,-4.7],[5260,-4.1],[5290,-4.6],[5320,-4.15],[5350,-4.9],[5380,-4.2],[5410,-4.7],[5440,-4.25],[5470,-5.0],[5500,-4.3],[5530,-4.8],[5560,-4.35],[5590,-5.2],[5620,-4.4],[5650,-4.9],[5680,-4.45],[5710,-5.1],[5740,-4.5],[5770,-4.95],[5800,-4.55],[5830,-5.3],[5860,-4.6],[5890,-5.0],[5920,-4.65],[5950,-5.4],[5980,-4.65],[6010,-5.1],[6040,-4.7],[6070,-5.5],[6100,-4.75],[6130,-5.15],[6160,-4.75],[6190,-5.6],[6220,-4.8],[6250,-5.2],[6280,-4.8],[6310,-5.7],[6340,-4.85],[6370,-5.25],[6400,-4.85],[6430,-5.8],[6460,-4.9],[6490,-5.3],[6520,-4.9],[6550,-6.0],[6580,-4.95],[6610,-5.35],[6640,-4.95],[6670,-5.9],[6700,-5.0],[6730,-5.4],[6760,-5.0],[6790,-6.1],[6820,-5.05],[6850,-5.45],[6880,-5.05],[6910,-5.9],[6940,-5.1],[6970,-5.5],[7000,-5.1]];

// SLy-125145-R2-1
const slyb_dMb_s=[[0,0],[2400,0],[3000,-0.0005],[3500,-0.0012],[4000,-0.0018],[4500,-0.0024],[5000,-0.003],[5390,-0.0035],[5400,0.0125],[5410,-0.06]];
const slyb_dMb_d=[[0,0],[2359,0],[2600,0.002],[2800,0.004],[3000,0.0055],[3200,0.0065],[3500,0.007],[4000,0.007],[4500,0.0068],[5000,0.0066],[5240,0.0065],[5245,0.044],[5255,-0.06]];
const slyb_rho_s=[[0,1],[2250,1.0],[2330,0.97],[2380,0.93],[2440,1.35],[2500,1.0],[2540,0.97],[2600,1.4],[2660,1.1],[2700,1.05],[2760,1.45],[2820,1.2],[2860,1.15],[2920,1.48],[2980,1.3],[3030,1.28],[3090,1.52],[3150,1.4],[3200,1.42],[3260,1.55],[3320,1.5],[3400,1.58],[3500,1.6],[3700,1.65],[4000,1.7],[4300,1.75],[4600,1.8],[4900,1.86],[5100,1.92],[5200,1.98],[5300,2.1],[5350,2.6],[5380,3.6],[5400,0.5]];
const slyb_rho_d=[[0,1],[2250,1.0],[2330,0.97],[2380,0.93],[2440,1.3],[2500,1.02],[2540,0.98],[2600,1.35],[2660,1.12],[2700,1.07],[2760,1.4],[2820,1.22],[2860,1.18],[2920,1.45],[2980,1.32],[3030,1.3],[3090,1.5],[3150,1.42],[3260,1.52],[3400,1.55],[3700,1.62],[4000,1.68],[4300,1.73],[4600,1.78],[4900,1.84],[5100,1.92],[5180,2.1],[5220,2.6],[5240,3.6],[5250,0.5]];
const slyb_Mej_s=[[0,-6],[260,-6],[273,-4.9],[320,-4.55],[409,-4.4],[480,-4.5],[560,-4.85],[591,-5.2],[1950,-5.2],[1970,-4.9],[1985,-5.2],[2010,-4.7],[2025,-5.2],[2050,-4.5],[2065,-5.1],[2090,-4.35],[2105,-5.0],[2130,-4.2],[2145,-4.9],[2170,-4.05],[2185,-4.7],[2210,-3.95],[2225,-4.5],[2260,-3.85],[2275,-4.3],[2320,-3.78],[2335,-4.2],[2380,-3.72],[2409,-3.70],[2454,-3.31],[2518,-2.41],[2590,-2.24],[2772,-2.18],[3000,-2.17],[3318,-2.18],[3772,-2.3],[4227,-2.5],[4681,-2.64],[5000,-2.68],[5136,-2.7],[5227,-2.7],[5232,-1.2],[5240,-2.72],[5345,-2.75],[5350,-1.25],[5360,-2.75],[5409,-2.75],[5450,-2.6],[5460,-2.8],[5600,-2.82],[5800,-2.88],[6000,-2.93],[6200,-3.0],[6500,-3.08],[6909,-3.36],[7000,-3.4]];
const slyb_Mej_d=[[0,-6],[280,-6],[295,-4.9],[350,-4.6],[420,-4.5],[500,-4.6],[570,-5.2],[1980,-5.2],[2000,-4.8],[2015,-5.2],[2040,-4.6],[2055,-5.1],[2080,-4.45],[2095,-5.0],[2120,-4.3],[2135,-4.9],[2160,-4.15],[2175,-4.8],[2200,-4.0],[2215,-4.6],[2250,-3.9],[2265,-4.4],[2300,-3.82],[2380,-3.75],[2430,-3.5],[2500,-2.7],[2600,-2.45],[2772,-2.4],[3000,-2.38],[3318,-2.4],[3772,-2.47],[4227,-2.6],[4681,-2.8],[5000,-2.95],[5181,-3.08],[5230,-3.1],[5245,-1.3],[5260,-3.0],[5300,-3.2],[5345,-2.75],[5360,-3.2],[5409,-3.26],[5700,-3.3],[6000,-3.38],[6227,-3.51],[6500,-3.45],[6909,-3.4],[7000,-3.4]];
const slyb_Tej_s=[[0,-8],[85,-8],[95,-6.0],[110,-7.3],[135,-5.4],[150,-7.1],[180,-5.05],[195,-6.8],[230,-4.92],[245,-6.5],[273,-4.88],[290,-6.2],[330,-5.0],[345,-6.1],[380,-5.15],[395,-6.2],[430,-5.3],[445,-6.4],[480,-5.45],[495,-6.5],[540,-5.6],[555,-6.7],[600,-5.72],[615,-6.9],[680,-5.9],[695,-7.0],[760,-6.05],[775,-7.1],[840,-6.2],[855,-7.2],[940,-6.3],[955,-7.3],[1045,-6.4],[1060,-7.3],[1150,-6.45],[1165,-7.3],[1260,-6.5],[1275,-7.3],[1380,-6.55],[1395,-7.3],[1500,-6.6],[1515,-7.3],[1620,-6.65],[1635,-7.3],[1740,-6.7],[1755,-7.3],[1863,-6.8],[1900,-7.3],[1930,-6.6],[1945,-7.3],[1980,-6.1],[1995,-7.2],[2030,-5.8],[2045,-7.0],[2080,-5.6],[2095,-6.8],[2130,-5.4],[2145,-6.6],[2180,-5.3],[2195,-6.3],[2227,-5.25],[2245,-6.0],[2280,-5.1],[2295,-5.8],[2340,-5.0],[2355,-5.6],[2409,-4.93],[2454,-5.1],[2480,-4.2],[2518,-3.72],[2550,-3.4],[2590,-3.32],[2681,-3.38],[2750,-3.35],[2863,-3.42],[3318,-3.67],[3772,-4.01],[4227,-4.42],[4681,-4.76],[4850,-4.85],[4860,-4.6],[4870,-4.88],[5181,-5.22],[5227,-5.25],[5235,-3.2],[5245,-5.5],[5255,-3.3],[5265,-5.2],[5280,-3.5],[5295,-5.6],[5310,-3.6],[5325,-5.3],[5340,-3.4],[5355,-5.7],[5370,-3.7],[5385,-5.4],[5400,-4.0],[5420,-5.6],[5440,-4.1],[5460,-5.2],[5480,-4.2],[5500,-5.8],[5520,-4.3],[5540,-5.1],[5560,-4.25],[5580,-5.5],[5600,-4.35],[5620,-5.0],[5640,-4.3],[5660,-5.7],[5680,-4.4],[5700,-5.1],[5720,-4.35],[5740,-5.4],[5760,-4.45],[5780,-5.0],[5800,-4.4],[5820,-5.9],[5840,-4.5],[5860,-5.1],[5880,-4.45],[5900,-5.5],[5920,-4.5],[5940,-5.0],[5960,-4.4],[5980,-5.6],[6000,-4.55],[6020,-5.1],[6040,-4.5],[6060,-5.4],[6080,-4.55],[6100,-5.0],[6120,-4.5],[6140,-6.0],[6160,-4.6],[6180,-5.1],[6200,-4.55],[6220,-5.4],[6240,-4.6],[6260,-5.0],[6280,-4.55],[6300,-5.7],[6320,-4.6],[6340,-5.1],[6360,-4.6],[6380,-5.3],[6400,-4.65],[6420,-5.0],[6440,-4.6],[6460,-5.9],[6480,-4.65],[6500,-5.1],[6520,-4.6],[6540,-5.4],[6560,-4.65],[6580,-5.0],[6600,-4.6],[6620,-5.6],[6640,-4.65],[6660,-5.1],[6680,-4.65],[6700,-5.3],[6720,-4.7],[6740,-5.0],[6760,-4.65],[6780,-5.8],[6800,-4.7],[6820,-5.1],[6840,-4.65],[6860,-5.3],[6880,-4.7],[6900,-5.0],[6920,-4.7],[6940,-5.6],[6960,-4.7],[6980,-5.1],[7000,-4.75]];
const slyb_Tej_d=[[0,-8],[100,-8],[110,-6.2],[125,-7.3],[150,-5.6],[165,-7.2],[200,-5.2],[215,-7.0],[260,-5.0],[275,-6.7],[320,-5.1],[335,-6.5],[390,-5.3],[405,-6.6],[470,-5.55],[485,-6.8],[560,-5.75],[575,-7.0],[660,-5.95],[675,-7.2],[780,-6.15],[795,-7.3],[900,-6.3],[915,-7.3],[1100,-6.5],[1115,-7.3],[1950,-7.3],[1970,-6.5],[1985,-7.3],[2020,-6.0],[2035,-7.2],[2070,-5.7],[2085,-7.0],[2120,-5.5],[2135,-6.7],[2170,-5.35],[2185,-6.4],[2230,-5.2],[2245,-6.1],[2290,-5.1],[2305,-5.8],[2360,-5.0],[2409,-4.95],[2454,-5.2],[2490,-4.0],[2518,-3.72],[2560,-3.6],[2650,-3.55],[2750,-3.6],[2863,-3.55],[3318,-3.75],[3772,-4.19],[4227,-4.65],[4681,-5.0],[5000,-5.45],[5181,-5.92],[5230,-5.95],[5240,-3.5],[5255,-5.9],[5270,-3.6],[5290,-5.7],[5320,-3.9],[5340,-5.5],[5370,-4.0],[5400,-5.3],[5430,-4.1],[5460,-5.5],[5490,-4.2],[5520,-5.2],[5550,-4.25],[5580,-5.7],[5610,-4.3],[5640,-5.1],[5670,-4.35],[5700,-5.5],[5730,-4.4],[5760,-5.0],[5790,-4.45],[5820,-5.8],[5850,-4.45],[5880,-5.1],[5910,-4.5],[5940,-5.6],[5970,-4.5],[6000,-5.0],[6030,-4.55],[6060,-5.9],[6090,-4.55],[6120,-5.1],[6150,-4.6],[6180,-5.5],[6210,-4.6],[6240,-5.0],[6270,-4.6],[6300,-5.7],[6330,-4.65],[6360,-5.1],[6390,-4.65],[6420,-5.4],[6450,-4.65],[6480,-5.0],[6510,-4.7],[6540,-5.8],[6570,-4.7],[6600,-5.1],[6630,-4.7],[6660,-5.5],[6690,-4.7],[6720,-5.0],[6750,-4.75],[6780,-5.6],[6810,-4.75],[6840,-5.1],[6870,-4.75],[6900,-5.4],[6930,-4.75],[6960,-5.0],[7000,-4.8]];

// ---- runs ----
const runs = [
 {label:'MS1-135135-R2', color:'#ff0000', merger:1433, data:[[ms1a_dMb_s,ms1a_dMb_d],[ms1a_rho_s,ms1a_rho_d],[ms1a_Mej_s,ms1a_Mej_d],[ms1a_Tej_s,ms1a_Tej_d]]},
 {label:'MS1-125145-R2', color:'#ff0000', merger:1455, data:[[ms1b_dMb_s,ms1b_dMb_d],[ms1b_rho_s,ms1b_rho_d],[ms1b_Mej_s,ms1b_Mej_d],[ms1b_Tej_s,ms1b_Tej_d]]},
 {label:'H4-135135-R2', color:'#ffa500', merger:1786, data:[[h4a_dMb_s,h4a_dMb_d],[h4a_rho_s,h4a_rho_d],[h4a_Mej_s,h4a_Mej_d],[h4a_Tej_s,h4a_Tej_d]]},
 {label:'H4-125145-R2', color:'#ffa500', merger:1830, data:[[h4b_dMb_s,h4b_dMb_d],[h4b_rho_s,h4b_rho_d],[h4b_Mej_s,h4b_Mej_d],[h4b_Tej_s,h4b_Tej_d]]},
 {label:'ALF2-135135-R2', color:'#008000', merger:2132, data:[[alf2a_dMb_s,alf2a_dMb_d],[alf2a_rho_s,alf2a_rho_d],[alf2a_Mej_s,alf2a_Mej_d],[alf2a_Tej_s,alf2a_Tej_d]]},
 {label:'ALF2-125145-R2', color:'#008000', merger:2050, data:[[alf2b_dMb_s,alf2b_dMb_d],[alf2b_rho_s,alf2b_rho_d],[alf2b_Mej_s,alf2b_Mej_d],[alf2b_Tej_s,alf2b_Tej_d]]},
 {label:'SLy-135135-R2', color:'#0000ff', merger:2506, data:[[slya_dMb_s,slya_dMb_d],[slya_rho_s,slya_rho_d],[slya_Mej_s,slya_Mej_d],[slya_Tej_s,slya_Tej_d]]},
 {label:'SLy-125145-R2-1', color:'#0000ff', merger:2359, data:[[slyb_dMb_s,slyb_dMb_d],[slyb_rho_s,slyb_rho_d],[slyb_Mej_s,slyb_Mej_d],[slyb_Tej_s,slyb_Tej_d]]}
];

// ---- layout & styles ----
const L=77, T=5, W=317.5, H=111.375;
const SERIF='Liberation Serif';
const tickFont={fontFamily:SERIF, fontSize:17, color:'#222'};
const nameRich={
  i:{fontFamily:SERIF, fontStyle:'italic', fontSize:19, color:'#444', lineHeight:26, verticalAlign:'middle'},
  r:{fontFamily:SERIF, fontSize:19, color:'#444', lineHeight:26, verticalAlign:'middle'},
  sub:{fontFamily:SERIF, fontStyle:'italic', fontSize:13, color:'#444', lineHeight:14, verticalAlign:'bottom'},
  sub2:{fontFamily:SERIF, fontStyle:'italic', fontSize:10, color:'#444', lineHeight:9, verticalAlign:'bottom'},
  sun:{fontFamily:'DejaVu Sans', fontSize:11, color:'#444', lineHeight:14, verticalAlign:'bottom'}
};
const qDefs=[
 {kind:'lin', min:-0.05, max:0.05, ticks:dMbTicks, dec:2, name:'{i|δM}{sub|b}{i|/M}{sun|⊙}'},
 {kind:'lin', min:0.8, max:3.5, ticks:rhoTicks, dec:1, name:'{i|ρ}{sub|max}{i|/ρ}{sub|max}{sub2|0}'},
 {kind:'log', lmin:-5, lmax:-1.29, name:'{i|M}{sub|ejecta}{r|[}{i|M}{sun|⊙}{r|]}'},
 {kind:'log', lmin:-7, lmax:-3.15, name:'{i|T}{sub|ejecta}'}
];

function xAxisDef(g,pos,showLabels,c){
  const a={type:'value', gridIndex:g, position:pos, min:0, max:7000, interval:1000,
    axisLine:{show:false,onZero:false}, splitLine:{show:false},
    axisTick:{show:true,inside:true,length:5,lineStyle:{color:'#000',width:1}},
    axisLabel:Object.assign({show:showLabels, margin:5, showMinLabel:true, showMaxLabel:true,
      formatter:v=>(v===7000&&c<3)?'':String(v)}, tickFont)};
  if(showLabels){
    a.name='{s|time }{i|t/M}{o|⊙}'; a.nameLocation='middle'; a.nameGap=22;
    a.nameTextStyle={rich:{
      s:{fontFamily:'DejaVu Sans', fontSize:15, color:'#222', lineHeight:22, verticalAlign:'middle'},
      i:{fontFamily:SERIF, fontStyle:'italic', fontSize:18, color:'#222', lineHeight:22, verticalAlign:'middle'},
      o:{fontFamily:'DejaVu Sans', fontSize:10, color:'#222', lineHeight:12, verticalAlign:'bottom'}}};
  }
  return a;
}
function yAxisDef(g,pos,d,showLabels){
  const a={gridIndex:g, position:pos, axisLine:{show:false,onZero:false}, splitLine:{show:false},
    axisTick:{show:true,inside:true,length:5,lineStyle:{color:'#000',width:1}}};
  if(d.kind==='lin'){
    a.type='value'; a.min=d.min; a.max=d.max;
    a.axisTick.customValues=d.ticks;
    a.axisLabel=Object.assign({show:showLabels, margin:4, customValues:d.ticks,
      formatter:v=>v.toFixed(d.dec).replace('-','\u2212')}, tickFont);
  } else {
    a.type='log'; a.logBase=10; a.min=Math.pow(10,d.lmin); a.max=Math.pow(10,d.lmax);
    a.axisLabel={show:showLabels, margin:4, formatter:v=>{
        const l=Math.log10(v), e=Math.round(l);
        if(Math.abs(l-e)>1e-6) return '';
        return '{b|10}{s|'+(e<0?'\u2212':'')+Math.abs(e)+'}';
      },
      rich:{b:{fontFamily:SERIF,fontSize:17,color:'#222',lineHeight:24,verticalAlign:'middle'},
            s:{fontFamily:SERIF,fontSize:12,color:'#222',lineHeight:13,verticalAlign:'top'}}};
  }
  if(showLabels){
    a.name=d.name; a.nameLocation='middle'; a.nameGap=46; a.nameTextStyle={rich:nameRich};
  }
  return a;
}
function minorDef(g,pos,d){
  const vals=[];
  for(let k=Math.floor(d.lmin);k<d.lmax;k++) for(let m=2;m<=9;m++){const v=k+Math.log10(m); if(v>d.lmin&&v<d.lmax) vals.push(v);}
  return {type:'value', gridIndex:g, position:pos, min:d.lmin, max:d.lmax,
    axisLine:{show:false,onZero:false}, splitLine:{show:false},
    axisLabel:{show:false, customValues:vals},
    axisTick:{show:true,inside:true,length:2.5,customValues:vals,lineStyle:{color:'#000',width:1}}};
}

const grids=[], xAxes=[], yAxes=[], series=[], titles=[];
runs.forEach((run,i)=>{
  const c=i%4, half=i<4?0:4;
  run.data.forEach((pair,q)=>{
    const r=half+q, g=grids.length, left=L+c*W, top=T+r*H, d=qDefs[q];
    grids.push({left:left, top:top, width:W, height:H, show:true, borderColor:'#000', borderWidth:1.2,
      backgroundColor:'rgba(0,0,0,0)', containLabel:false, outerBoundsMode:'none'});
    const xi=xAxes.length;
    xAxes.push(xAxisDef(g,'bottom',r===7,c));
    xAxes.push(xAxisDef(g,'top',false,c));
    const yi=yAxes.length;
    yAxes.push(yAxisDef(g,'left',d,c===0));
    yAxes.push(yAxisDef(g,'right',d,false));
    if(d.kind==='log'){ yAxes.push(minorDef(g,'left',d)); yAxes.push(minorDef(g,'right',d)); }
    const conv = d.kind==='log' ? (p=>[p[0],Math.pow(10,p[1])]) : (p=>p);
    const s={type:'line', xAxisIndex:xi, yAxisIndex:yi, data:pair[0].map(conv), showSymbol:false, symbol:'none',
      lineStyle:{color:run.color,width:1.2}, itemStyle:{color:run.color}, animation:false, silent:true, clip:true, z:3};
    if(q===0){
      s.markLine={silent:true, animation:false, symbol:['none','none'], label:{show:false},
        lineStyle:{color:'#000',width:1.2,type:'solid'}, data:[{xAxis:run.merger}]};
    }
    series.push(s);
    series.push({type:'line', xAxisIndex:xi, yAxisIndex:yi, data:pair[1].map(conv), showSymbol:false, symbol:'none',
      lineStyle:{color:run.color,width:1,type:[1.2,1.6]}, itemStyle:{color:run.color}, animation:false, silent:true, clip:true, z:2});
    if(q===0){
      titles.push({text:run.label, left:left+2, top:top+3, padding:0,
        textStyle:{color:run.color, fontFamily:'DejaVu Sans', fontSize:14, fontWeight:'normal'}});
    }
  });
});

const chart=echarts.init(document.getElementById('c'),null,{renderer:'canvas',width:1401,height:939});
chart.setOption({backgroundColor:'#fff', animation:false, title:titles, grid:grids, xAxis:xAxes, yAxis:yAxes, series:series});
</script></body></html>
